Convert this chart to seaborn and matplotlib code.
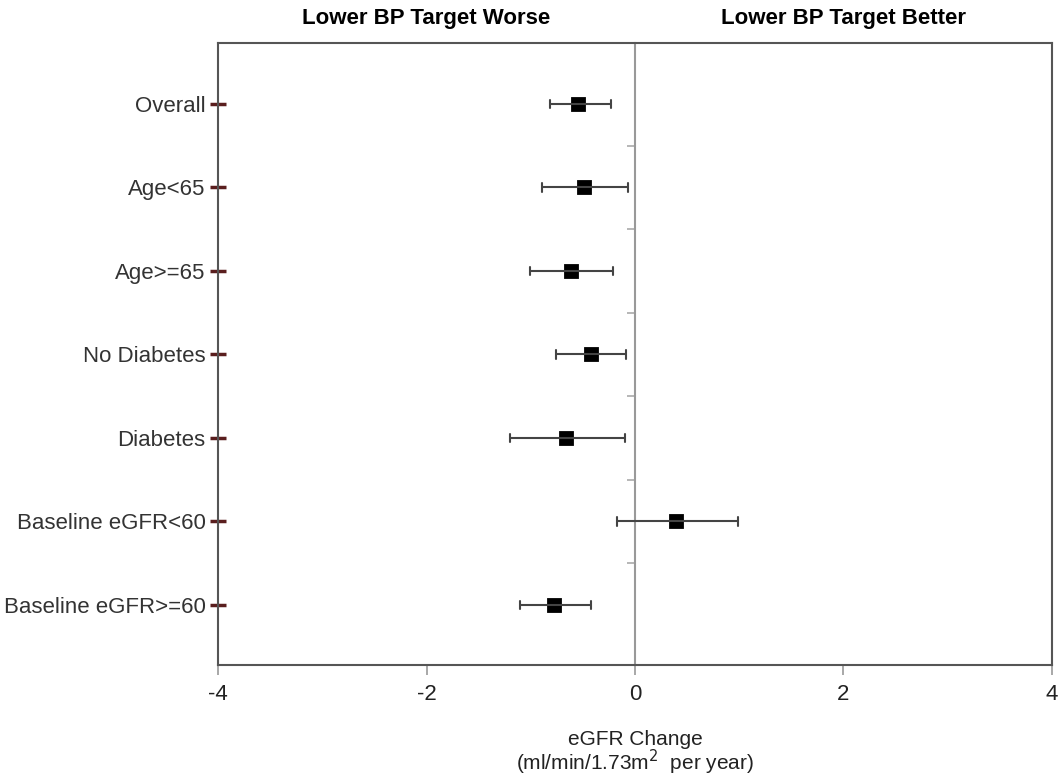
import pandas as pd
import numpy as np
import seaborn as sns
import matplotlib.pyplot as plt

# subgroup estimates
groups = ["Overall", "Age<65", "Age>=65", "No Diabetes", "Diabetes",
          "Baseline eGFR<60", "Baseline eGFR>=60"]
est = [-0.55, -0.49, -0.61, -0.42, -0.66, 0.39, -0.78]
lo = [-0.82, -0.89, -1.01, -0.76, -1.20, -0.17, -1.10]
hi = [-0.23, -0.07, -0.21, -0.09, -0.10, 0.99, -0.42]
xticks = [-4, -2, 0, 2, 4]

# long table: median of (lo, est, hi) = est, min/max = CI
df = pd.DataFrame({
    "group": groups * 3,
    "value": lo + est + hi,
})

sns.set_theme(style="white")
plt.rcParams["font.family"] = ["Liberation Sans", "DejaVu Sans"]

fig = plt.figure(figsize=(10.61, 7.77), dpi=100)
ax = fig.add_axes([0.2055, 0.1442, 0.786, 0.8005])

sns.pointplot(data=df, x="value", y="group", order=groups,
              estimator="median", errorbar=lambda v: (v.min(), v.max()),
              markers="s", linestyle="none", color="black", markersize=9,
              capsize=0.1, err_kws={"color": "#444444", "linewidth": 1.5},
              ax=ax, zorder=5)

ax.set_xlim(-4, 4)
ax.set_ylim(6.72, -0.73)
ax.set_xticks(xticks)
ax.set_xticklabels([str(t) for t in xticks])
ax.set_ylabel("")
ax.set_xlabel("eGFR Change\n(ml/min/1.73m$^2$  per year)", fontsize=15,
              color="#222222", labelpad=18, linespacing=0.95)

for s in ax.spines.values():
    s.set_color("#555555")
    s.set_linewidth(1.5)

ax.tick_params(axis="y", left=True, direction="inout", length=12, width=2.5,
               color="#5a1e1e", labelsize=16, labelcolor="#333333", pad=3)
ax.tick_params(axis="x", bottom=True, direction="out", length=7, width=1.2,
               color="#999999", labelsize=16, labelcolor="#222222", pad=7)

# zero reference line with small ticks between rows
sec = ax.secondary_yaxis(0.5)
sec.set_yticks(np.arange(0.5, len(groups) - 1, 1.0))
sec.tick_params(direction="in", length=6, width=1.2, color="#aaaaaa",
                labelright=False, labelleft=False)
sec.spines["right"].set_color("#999999")
sec.spines["right"].set_linewidth(1.5)
sec.spines["left"].set_visible(False)

ax.annotate("Lower BP Target Worse", xy=(-2, 1.04),
            xycoords=("data", "axes fraction"), ha="center", va="center",
            fontsize=16, fontweight="bold", color="black")
ax.annotate("Lower BP Target Better", xy=(2, 1.04),
            xycoords=("data", "axes fraction"), ha="center", va="center",
            fontsize=16, fontweight="bold", color="black")

fig.savefig("out.png", dpi=100)
